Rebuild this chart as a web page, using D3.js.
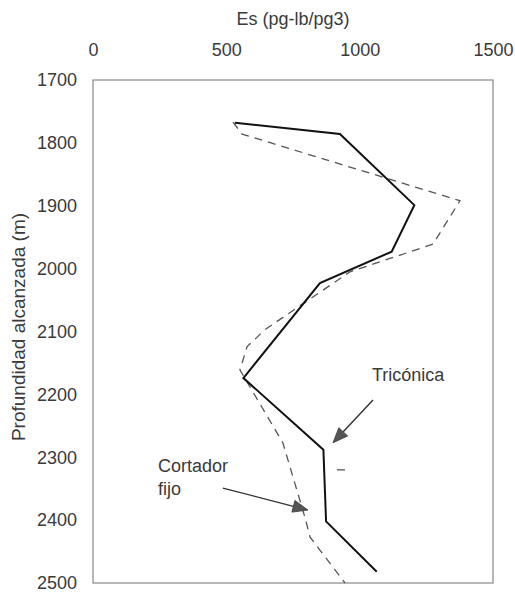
<!DOCTYPE html>
<html>
<head>
<meta charset="utf-8">
<script src="https://cdn.jsdelivr.net/npm/d3@7"></script>
<style>
  body { margin: 0; background: #fff; }
  text { font-family: "Liberation Sans", Arial, sans-serif; fill: #3a3a3a; }
</style>
</head>
<body>
<svg id="chart" width="515" height="593"></svg>
<script>
// Es (pg-lb/pg3) vs depth (m)
var xTicks = [0, 500, 1000, 1500];
var yTicks = [1700, 1800, 1900, 2000, 2100, 2200, 2300, 2400, 2500];

// Triconica (solid)
var triEs    = [532, 926, 1205, 1120, 851, 564, 864, 874, 1064];
var triDepth = [1768, 1786, 1899, 1973, 2023, 2174, 2288, 2402, 2482];

// Cortador fijo (dashed)
var cfEs    = [525, 559, 1376, 1275, 964, 645, 578, 551, 712, 795, 814, 945];
var cfDepth = [1767, 1786, 1892, 1961, 2005, 2097, 2124, 2161, 2277, 2396, 2427, 2500];

// annotations, in data units
var labels = [
    {text: "Tricónica", es: 1046, depth: 2179},
    {text: "Cortador", es: 244, depth: 2323},
    {text: "fijo", es: 244, depth: 2360}
];
var arrows = [
    {from: [1050, 2209], to: [900, 2277]},
    {from: [487, 2349], to: [806, 2384]}
];
var strayDash = [[915, 2320], [945, 2320]];

(function() {
    var svg = d3.select("#chart");
    var x = d3.scaleLinear().domain([0, 1500]).range([93, 493]);
    var y = d3.scaleLinear().domain([1700, 2500]).range([80, 583]);

    // frame
    svg.append("rect")
        .attr("x", x(0)).attr("y", y(1700))
        .attr("width", x(1500) - x(0)).attr("height", y(2500) - y(1700))
        .attr("fill", "none")
        .attr("stroke", "#888")
        .attr("stroke-width", 1.2);

    // top axis
    var top = svg.append("g")
        .attr("transform", "translate(0," + y(1700) + ")")
        .call(d3.axisTop(x).tickValues(xTicks).tickSize(0).tickPadding(24).tickFormat(d3.format("d")));
    top.select(".domain").remove();
    top.selectAll("text").attr("font-size", 18).attr("font-family", null);

    // left axis
    var left = svg.append("g")
        .attr("transform", "translate(" + x(0) + ",0)")
        .call(d3.axisLeft(y).tickValues(yTicks).tickSize(0).tickPadding(16).tickFormat(d3.format("d")));
    left.select(".domain").remove();
    left.selectAll("text").attr("font-size", 18).attr("font-family", null);

    svg.append("text")
        .attr("x", (x(0) + x(1500)) / 2)
        .attr("y", 25)
        .attr("text-anchor", "middle")
        .attr("font-size", 18)
        .text("Es (pg-lb/pg3)");

    svg.append("text")
        .attr("transform", "translate(25," + 327 + ") rotate(-90)")
        .attr("text-anchor", "middle")
        .attr("font-size", 19)
        .text("Profundidad alcanzada (m)");

    var line = d3.line()
        .x(function(d) { return x(d[0]); })
        .y(function(d) { return y(d[1]); });

    var cf = d3.zip(cfEs, cfDepth);
    var tri = d3.zip(triEs, triDepth);

    svg.append("path")
        .attr("d", line(cf))
        .attr("fill", "none")
        .attr("stroke", "#555")
        .attr("stroke-width", 1.3)
        .attr("stroke-dasharray", "8,6");

    svg.append("path")
        .attr("d", line(tri))
        .attr("fill", "none")
        .attr("stroke", "#111")
        .attr("stroke-width", 2);

    svg.append("path")
        .attr("d", line(strayDash))
        .attr("stroke", "#555")
        .attr("stroke-width", 1.3);

    // arrows
    arrows.forEach(function(a) {
        var x1 = x(a.from[0]), y1 = y(a.from[1]);
        var x2 = x(a.to[0]), y2 = y(a.to[1]);
        var ang = Math.atan2(y2 - y1, x2 - x1);
        var len = 15, half = 6;
        var bx = x2 - len * Math.cos(ang), by = y2 - len * Math.sin(ang);
        svg.append("line")
            .attr("x1", x1).attr("y1", y1).attr("x2", bx).attr("y2", by)
            .attr("stroke", "#333").attr("stroke-width", 1.4);
        var pts = [
            [x2, y2],
            [bx + half * Math.sin(ang), by - half * Math.cos(ang)],
            [bx - half * Math.sin(ang), by + half * Math.cos(ang)]
        ];
        svg.append("path")
            .attr("d", "M" + pts.join("L") + "Z")
            .attr("fill", "#555")
            .attr("stroke", "#333")
            .attr("stroke-width", 0.8);
    });

    svg.selectAll(".lbl")
        .data(labels)
        .join("text")
        .attr("class", "lbl")
        .attr("x", function(d) { return x(d.es); })
        .attr("y", function(d) { return y(d.depth); })
        .attr("font-size", 18)
        .text(function(d) { return d.text; });
})();
</script>
</body>
</html>
